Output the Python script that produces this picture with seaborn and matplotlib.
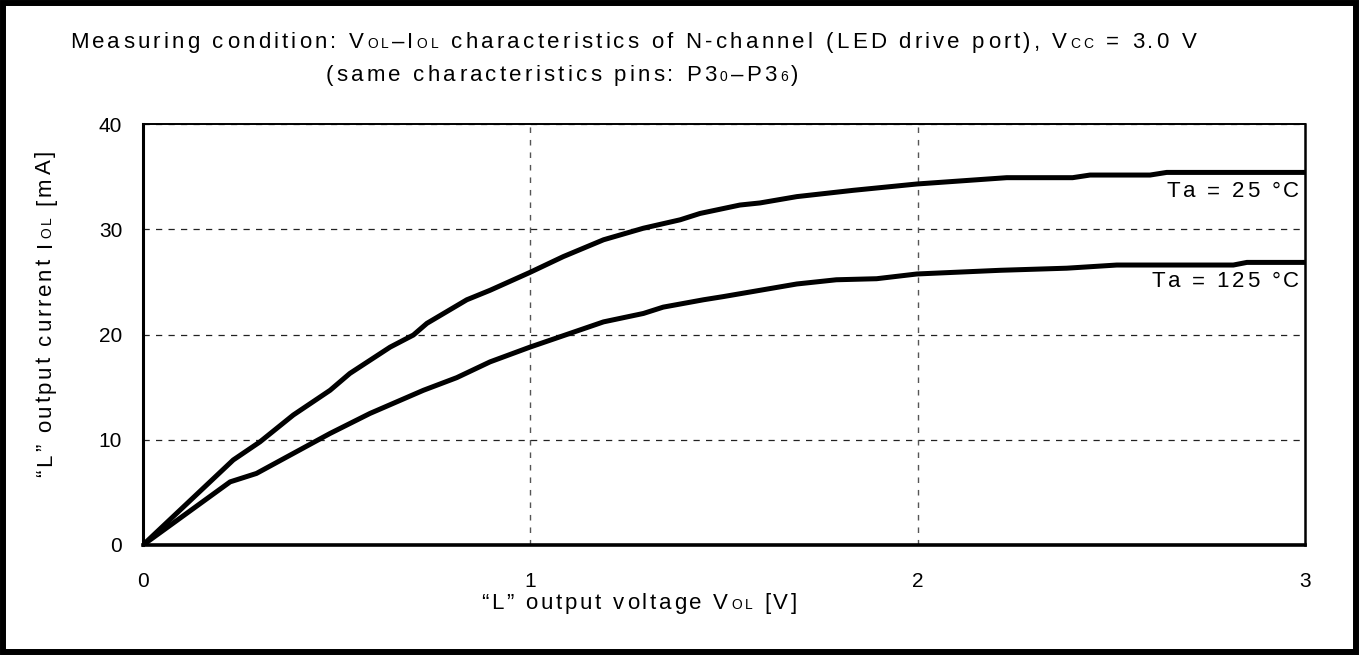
import numpy as np
import pandas as pd
import matplotlib
matplotlib.use("Agg")
import matplotlib.pyplot as plt
import seaborn as sns
from matplotlib.font_manager import FontProperties
from matplotlib.patches import Rectangle

# V_OL [V] / I_OL [mA] curves
v_25c = [0, 0.233, 0.302, 0.388, 0.483, 0.534, 0.638, 0.698, 0.733, 0.836, 0.896,
         0.999, 1.085, 1.189, 1.292, 1.387, 1.438, 1.541, 1.593, 1.688, 1.834,
         1.998, 2.23, 2.40, 2.445, 2.60, 2.643, 3.0]
i_25c = [0, 8.08, 9.8, 12.35, 14.7, 16.3, 18.8, 19.95, 21.06, 23.3, 24.2,
         25.9, 27.4, 29.0, 30.1, 30.9, 31.5, 32.3, 32.5, 33.1, 33.7,
         34.3, 34.9, 34.9, 35.15, 35.15, 35.4, 35.4]
v_125c = [0, 0.225, 0.293, 0.483, 0.586, 0.724, 0.81, 0.896, 0.999, 1.189, 1.292,
          1.343, 1.447, 1.498, 1.688, 1.79, 1.894, 1.998, 2.213, 2.385, 2.514,
          2.815, 2.85, 3.0]
i_125c = [0, 6.0, 6.8, 10.6, 12.5, 14.7, 15.9, 17.4, 18.8, 21.2, 22.0,
          22.6, 23.3, 23.6, 24.8, 25.2, 25.3, 25.75, 26.1, 26.3, 26.6,
          26.6, 26.85, 26.85]
curve_labels = ["Ta = 25 °C", "Ta = 125 °C"]
x_ticks = [0, 1, 2, 3]
y_ticks = [0, 10, 20, 30, 40]

FAMILY = "Liberation Sans"
W, H, DPI = 1359, 655, 100

sns.set_theme(style="white")
plt.rcParams["font.family"] = [FAMILY, "DejaVu Sans"]

df = pd.concat([
    pd.DataFrame({"V": v_25c, "I": i_25c, "Ta": curve_labels[0]}),
    pd.DataFrame({"V": v_125c, "I": i_125c, "Ta": curve_labels[1]}),
], ignore_index=True)

fig = plt.figure(figsize=(W / DPI, H / DPI), dpi=DPI)
fig.patch.set_facecolor("white")
ax = fig.add_axes([143 / W, 1 - 545 / H, 1162 / W, 421 / H])

sns.lineplot(data=df, x="V", y="I", hue="Ta", palette=["black", "black"],
             estimator=None, sort=False, linewidth=3.6, legend=False,
             ax=ax, zorder=5)

ax.set_xlim(0, 3)
ax.set_ylim(0, 40)
ax.set_xticks(x_ticks)
ax.set_yticks(y_ticks)
ax.set_xticklabels([str(t) for t in x_ticks])
ax.set_yticklabels([str(t) for t in y_ticks])
ax.tick_params(length=0, labelsize=15, labelcolor="black")
ax.tick_params(axis="x", pad=19.5)
ax.tick_params(axis="y", pad=15)
ax.set_xlabel("")
ax.set_ylabel("")

# dashed grid
for yv in y_ticks[1:]:
    ax.axhline(yv, color="#222222", lw=0.9, ls=(0, (5, 5)), zorder=1)
for xv in x_ticks[1:-1]:
    ax.axvline(xv, color="#555555", lw=1.0, ls=(0, (4, 5)), zorder=1)

for side, lw in {"left": 2.2, "bottom": 2.6, "right": 1.8, "top": 1.4}.items():
    ax.spines[side].set_visible(True)
    ax.spines[side].set_color("black")
    ax.spines[side].set_linewidth(lw)

# outer frame
fig.patches.append(Rectangle((3 / W, 3 / H), 1 - 6 / W, 1 - 6 / H,
                             transform=fig.transFigure, fill=False,
                             edgecolor="black", lw=4.3, zorder=10))

renderer = fig.canvas.get_renderer()
_adv_cache = {}


def advance(ch, size):
    key = (ch, size)
    if key not in _adv_cache:
        prop = FontProperties(family=FAMILY, size=size)
        w2 = renderer.get_text_width_height_descent("|" + ch + "|", prop, ismath=False)[0]
        w1 = renderer.get_text_width_height_descent("||", prop, ismath=False)[0]
        _adv_cache[key] = w2 - w1
    return _adv_cache[key]


def spaced_text(segments, x, y, rotation=0, ha="left", tracking=0.0):
    """Lay out mixed-size runs character by character (pixel coords, origin bottom-left)."""
    items = []
    for text, size in segments:
        for ch in text:
            items.append((ch, size, advance(ch, size)))
    total = sum(a for _, _, a in items) + tracking * (len(items) - 1)
    start = {"left": 0.0, "center": -total / 2, "right": -total}[ha]
    th = np.deg2rad(rotation)
    ux, uy = np.cos(th), np.sin(th)
    pos = start
    for ch, size, adv in items:
        if ch != " ":
            fig.text((x + pos * ux) / W, (y + pos * uy) / H, ch, fontsize=size,
                     rotation=rotation, rotation_mode="anchor", ha="left",
                     va="baseline", family=FAMILY, color="black", zorder=6)
        pos += adv + tracking


BIG, SUB = 16, 10

# title
spaced_text([("Measuring condition: V", BIG), ("OL", SUB), ("–I", BIG), ("OL", SUB),
             (" characteristics of N-channel (LED drive port), V", BIG), ("CC", SUB),
             (" = 3.0 V", BIG)], 70, H - 48, tracking=3.2)
spaced_text([("(same characteristics pins: P3", BIG), ("0", SUB), ("–P3", BIG),
             ("6", SUB), (")", BIG)], 326, H - 81, tracking=3.2)

# axis titles
spaced_text([("“L” output voltage V", 16), ("OL", 10), (" [V]", 16)],
            639, H - 609, tracking=2.8, ha="center")
spaced_text([("“L” output current I", 16), ("OL", 10), (" [mA]", 16)],
            51, H - 313.5, rotation=90, tracking=2.8, ha="center")

# curve labels at the right end of each line
for lab, vv, ii in [(curve_labels[0], v_25c, i_25c), (curve_labels[1], v_125c, i_125c)]:
    px, py = ax.transData.transform((vv[-1], ii[-1]))
    spaced_text([(lab, 16)], px - 6, py - 25, ha="right", tracking=2.8)

fig.savefig("out.png", dpi=DPI, facecolor="white")
